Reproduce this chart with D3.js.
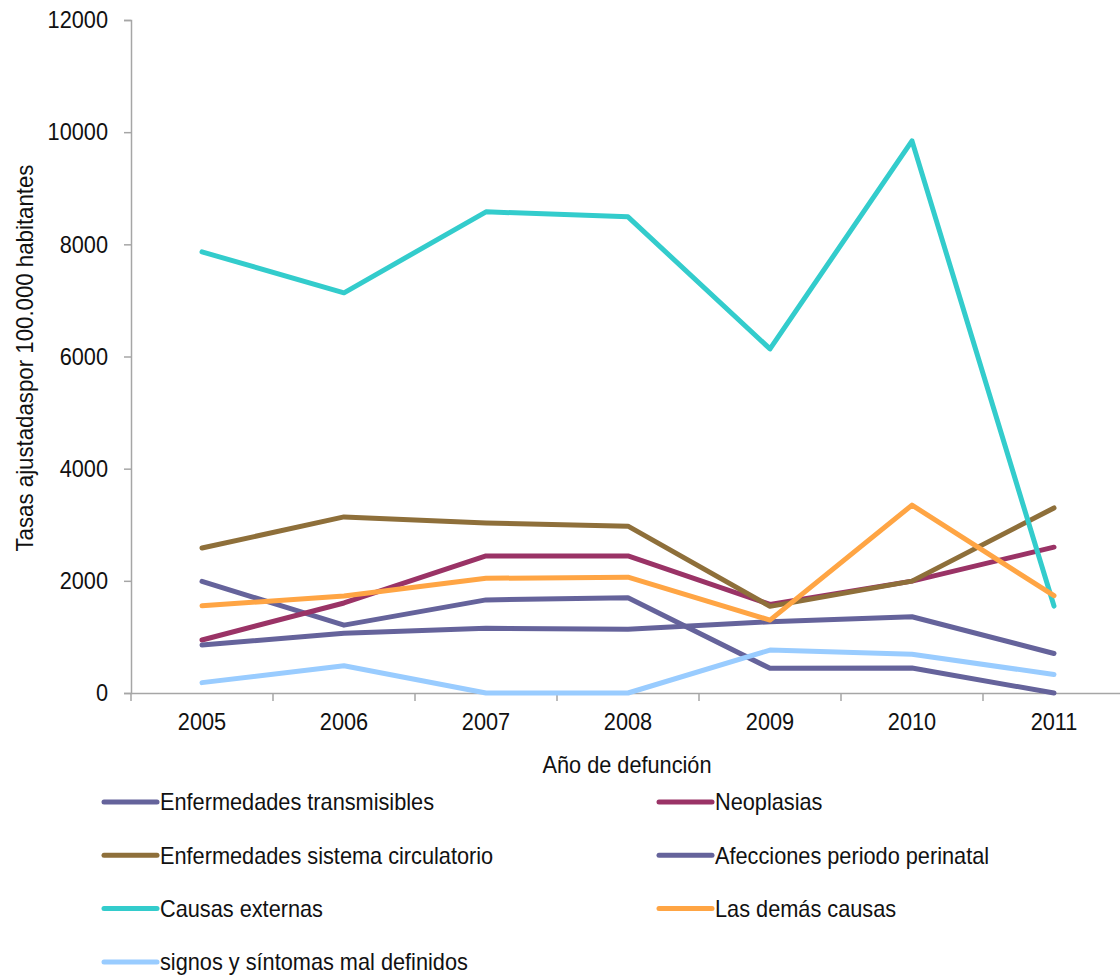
<!DOCTYPE html>
<html>
<head>
<meta charset="utf-8">
<script src="https://cdn.jsdelivr.net/npm/d3@7"></script>
<style>
  html, body { margin: 0; padding: 0; background: #fff; }
  svg text { font-family: "Liberation Sans", Arial, sans-serif; fill: #111; }
</style>
</head>
<body>
<svg id="chart" width="1120" height="978"></svg>
<script>
// Años de defunción
const years = ["2005", "2006", "2007", "2008", "2009", "2010", "2011"];
const yTicks = [0, 2000, 4000, 6000, 8000, 10000, 12000];

// Tasas ajustadas por 100.000 habitantes, por grupo de causas
const transmisibles = [1990, 1210, 1660, 1700, 440, 445, 0];
const neoplasias = [945, 1605, 2445, 2445, 1580, 1995, 2600];
const circulatorio = [2585, 3140, 3030, 2975, 1545, 1995, 3300];
const perinatal = [855, 1065, 1155, 1135, 1270, 1360, 705];
const externas = [7865, 7135, 8580, 8490, 6135, 9845, 1550];
const demas = [1555, 1730, 2045, 2065, 1300, 3350, 1735];
const signos = [185, 485, 0, 0, 765, 690, 330];

const seriesNames = [
  "Enfermedades transmisibles", "Neoplasias",
  "Enfermedades sistema circulatorio", "Afecciones periodo perinatal",
  "Causas externas", "Las demás causas",
  "signos y síntomas mal definidos"
];
const seriesValues = [transmisibles, neoplasias, circulatorio, perinatal, externas, demas, signos];
const seriesColors = ["#65639b", "#9a3366", "#8e6f3a", "#65639b", "#33cccc", "#ffa544", "#99ccff"];

const svg = d3.select("#chart");
const plotLeft = 131, plotRight = 1125, plotTop = 20, plotBottom = 693;

const x = d3.scaleBand().domain(years).range([plotLeft, plotRight]);
const y = d3.scaleLinear().domain([0, 12000]).range([plotBottom, plotTop]);

const axisColor = "#a6a6a6";

// Eje Y
const yAxis = svg.append("g")
  .attr("transform", `translate(${plotLeft},0)`)
  .call(d3.axisLeft(y).tickValues(yTicks).tickSize(7).tickPadding(16).tickFormat(d3.format("d")));
yAxis.select(".domain").attr("stroke", axisColor).attr("stroke-width", 1.5);
yAxis.selectAll(".tick line").attr("stroke", axisColor).attr("stroke-width", 1.5);
yAxis.selectAll(".tick text").attr("font-size", 24).attr("fill", "#111");

// Eje X
const xAxis = svg.append("g")
  .attr("transform", `translate(0,${plotBottom})`)
  .call(d3.axisBottom(x).tickSize(0).tickPadding(20));
xAxis.select(".domain").attr("stroke", axisColor).attr("stroke-width", 1.5);
xAxis.selectAll(".tick text").attr("font-size", 24).attr("fill", "#111");
// marcas entre categorías
const bounds = years.map(d => x(d)).concat([x(years[years.length - 1]) + x.bandwidth()]);
svg.append("g").selectAll("line").data(bounds).join("line")
  .attr("x1", d => d).attr("x2", d => d)
  .attr("y1", plotBottom).attr("y2", plotBottom + 8)
  .attr("stroke", axisColor).attr("stroke-width", 1.5);

// Líneas de las series
const line = d3.line()
  .x((d, i) => x(years[i]) + x.bandwidth() / 2)
  .y(d => y(d));

svg.append("g").selectAll("path").data(seriesValues).join("path")
  .attr("d", d => line(d))
  .attr("fill", "none")
  .attr("stroke", (d, i) => seriesColors[i])
  .attr("stroke-width", 5)
  .attr("stroke-linejoin", "round")
  .attr("stroke-linecap", "round");

// Títulos de ejes
const yTitle = svg.append("text")
  .attr("transform", `translate(33,358) rotate(-90)`)
  .attr("text-anchor", "middle")
  .attr("font-size", 24)
  .text("Tasas ajustadaspor 100.000 habitantes");

svg.append("text")
  .attr("x", 627).attr("y", 773)
  .attr("text-anchor", "middle")
  .attr("font-size", 24)
  .text("Año de defunción");

// Leyenda
const legend = svg.append("g");
const legItems = legend.selectAll("g").data(seriesNames).join("g")
  .attr("transform", (d, i) => `translate(${i % 2 === 0 ? 102 : 657},${802 + Math.floor(i / 2) * 53.3})`);
legItems.append("line")
  .attr("x1", 2).attr("x2", 55).attr("y1", 0).attr("y2", 0)
  .attr("stroke", (d, i) => seriesColors[i])
  .attr("stroke-width", 5)
  .attr("stroke-linecap", "round");
legItems.append("text")
  .attr("x", 58).attr("y", 0).attr("dy", "0.35em")
  .attr("font-size", 24)
  .text(d => d);

// Tipografía estrecha: comprimir el texto horizontalmente
svg.selectAll("text").each(function () {
  const w = this.getComputedTextLength();
  d3.select(this).attr("textLength", w * 0.905).attr("lengthAdjust", "spacingAndGlyphs");
});
yTitle.attr("textLength", 387);
</script>
</body>
</html>
